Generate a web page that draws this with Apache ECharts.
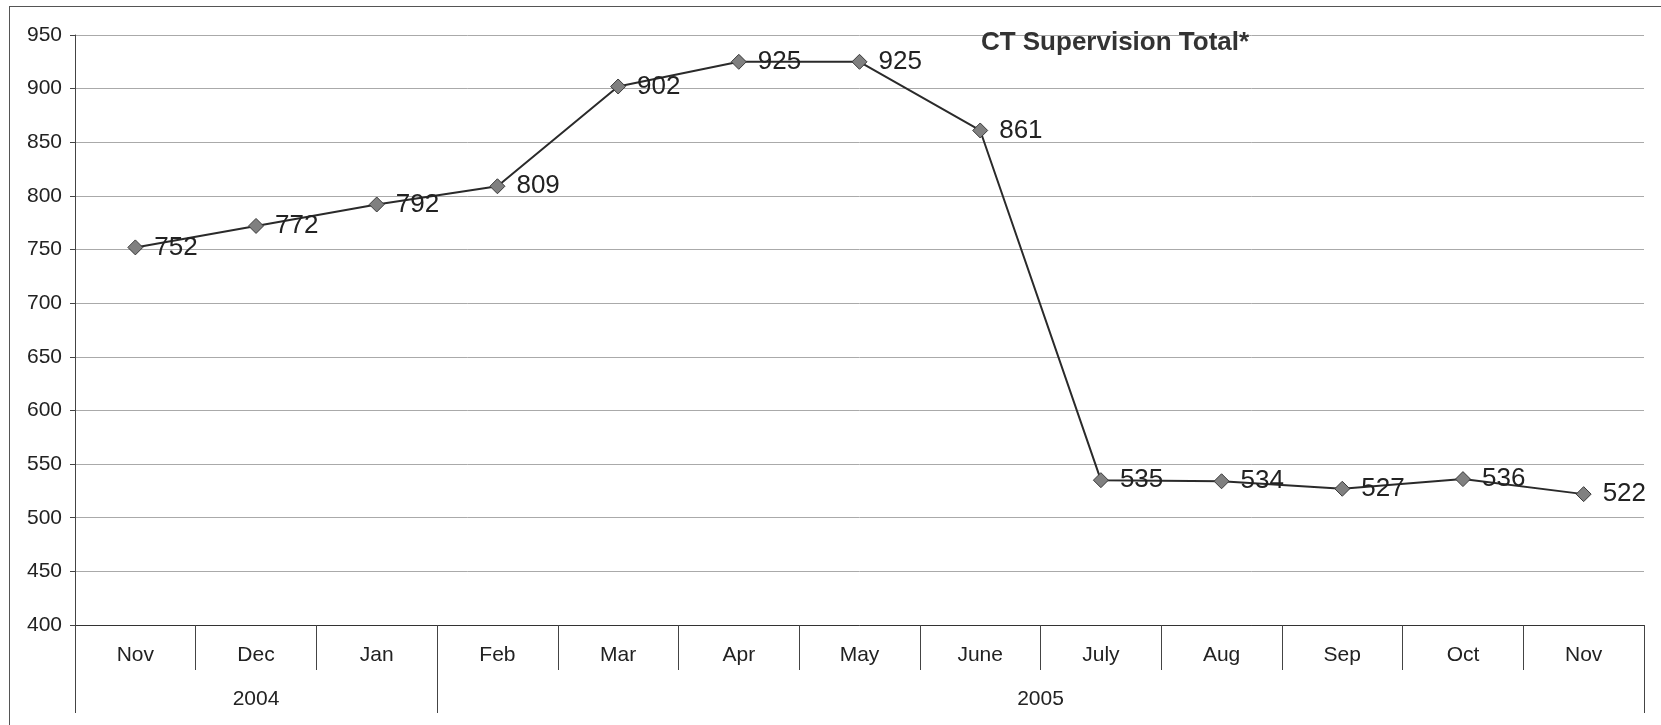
<!DOCTYPE html>
<html>
<head>
<meta charset="utf-8">
<script src="https://cdn.jsdelivr.net/npm/echarts@6/dist/echarts.min.js"></script>
<style>
html,body{margin:0;padding:0;background:#fff;overflow:hidden;width:1661px;height:725px;}
#frame{position:absolute;left:9px;top:6px;width:1760px;height:800px;border-left:1px solid #555;border-top:1px solid #555;border-right:none;border-bottom:none;}
#chart{position:absolute;left:0;top:0;width:1661px;height:725px;}
</style>
</head>
<body>
<div id="frame"></div>
<div id="chart"></div>
<script>
const titleText = 'CT Supervision Total*';
const months = ['Nov','Dec','Jan','Feb','Mar','Apr','May','June','July','Aug','Sep','Oct','Nov'];
const values = [752, 772, 792, 809, 902, 925, 925, 861, 535, 534, 527, 536, 522];
const years = ['2004', '2005'];
const yearSpans = [3, 10];
const yTicks = [400, 450, 500, 550, 600, 650, 700, 750, 800, 850, 900, 950];

// year group boundaries and centers in category units
const yearBounds = [0];
const yearCenters = [];
yearSpans.forEach(function (s) {
  const start = yearBounds[yearBounds.length - 1];
  yearCenters.push(start + s / 2);
  yearBounds.push(start + s);
});

const chart = echarts.init(document.getElementById('chart'), null, {renderer: 'canvas'});
const font = 'Liberation Sans, Arial, sans-serif';
chart.setOption({
  animation: false,
  backgroundColor: 'transparent',
  title: {
    text: titleText,
    left: 1110, top: 25, textAlign: 'center',
    textStyle: {fontFamily: font, fontSize: 26, fontWeight: 'bold', color: '#333'}
  },
  grid: {left: 75, right: 17, top: 35, bottom: 100, containLabel: false},
  xAxis: [{
    type: 'category',
    data: months,
    boundaryGap: true,
    axisLine: {lineStyle: {color: '#333', width: 1}},
    axisTick: {show: true, interval: 0, length: 45, lineStyle: {color: '#444'}},
    axisLabel: {interval: 0, margin: 20, fontFamily: font, fontSize: 21, color: '#222'},
    splitLine: {show: false}
  }, {
    type: 'value',
    min: 0, max: months.length,
    position: 'bottom',
    axisLine: {show: false},
    splitLine: {show: false},
    axisTick: {show: true, customValues: yearBounds, length: 88, lineStyle: {color: '#444'}},
    axisLabel: {
      show: true, customValues: yearCenters, margin: 64,
      fontFamily: font, fontSize: 21, color: '#222',
      formatter: function (v) {
        const i = yearCenters.indexOf(v);
        return i >= 0 ? years[i] : '';
      }
    }
  }],
  yAxis: {
    type: 'value',
    min: yTicks[0], max: yTicks[yTicks.length - 1], interval: 50,
    axisLine: {show: true, lineStyle: {color: '#444'}},
    axisTick: {show: true, length: 5, lineStyle: {color: '#444'}},
    axisLabel: {margin: 13, fontFamily: font, fontSize: 21, color: '#222'},
    splitLine: {show: true, lineStyle: {color: '#aaa', width: 1}}
  },
  series: [{
    type: 'line',
    data: values,
    xAxisIndex: 0,
    symbol: 'diamond',
    symbolSize: 15,
    itemStyle: {color: '#808080', borderColor: '#3a3a3a', borderWidth: 1},
    lineStyle: {color: '#2a2a2a', width: 2},
    label: {
      show: true, position: 'right', distance: 11,
      fontFamily: font, fontSize: 26, color: '#222'
    },
    z: 3
  }]
});
</script>
</body>
</html>
